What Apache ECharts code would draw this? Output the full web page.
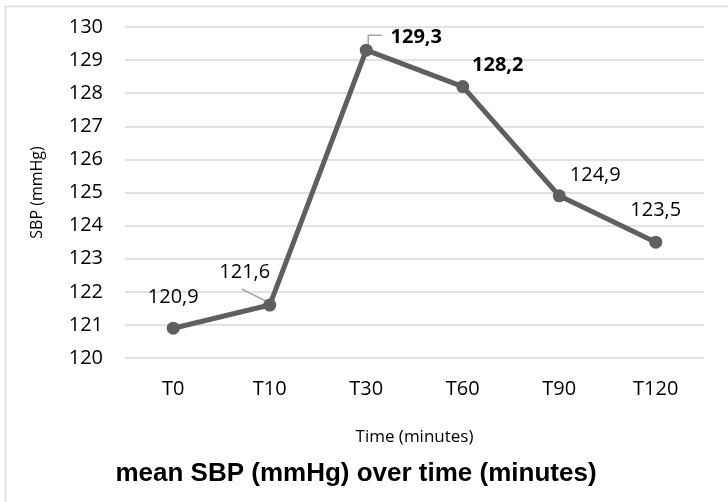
<!DOCTYPE html>
<html>
<head>
<meta charset="utf-8">
<script src="https://cdn.jsdelivr.net/npm/echarts@6/dist/echarts.min.js"></script>
<style>html,body{margin:0;padding:0;background:#fff}#c{width:728px;height:502px}</style>
</head>
<body>
<div id="c"></div>
<script>
const categories = ['T0', 'T10', 'T30', 'T60', 'T90', 'T120'];
const sbpValues = [120.9, 121.6, 129.3, 128.2, 124.9, 123.5];
const yMin = 120, yMax = 130, yStep = 1;
const boldLabels = [false, false, true, true, false, false];
const labelOffsets = [[0, -31], [-25, -33], [50, -13], [35, -21], [36, -21], [0, -32]];

const chart = echarts.init(document.getElementById('c'), null, {renderer: 'canvas'});
const FONT = '"Open Sans", sans-serif';

chart.setOption({
  animation: false,
  backgroundColor: '#fff',
  grid: {left: 125, right: 24, top: 27, bottom: 144},
  title: {
    text: 'mean SBP (mmHg) over time (minutes)',
    left: 351, top: 456, textAlign: 'center',
    textStyle: {fontFamily: '"Liberation Sans", Arial, sans-serif', fontWeight: 'bold', fontSize: 26, color: '#000'}
  },
  xAxis: {
    type: 'category', data: categories, boundaryGap: true,
    axisLine: {show: false}, axisTick: {show: false},
    axisLabel: {fontFamily: FONT, fontSize: 20, color: '#000', margin: 21},
    name: 'Time (minutes)', nameLocation: 'middle', nameGap: 71,
    nameTextStyle: {fontFamily: FONT, fontSize: 17, color: '#000'}
  },
  yAxis: {
    type: 'value', min: yMin, max: yMax, interval: yStep,
    axisLine: {show: false}, axisTick: {show: false},
    splitLine: {lineStyle: {color: '#d9d9d9', width: 1.5}},
    axisLabel: {fontFamily: FONT, fontSize: 20, color: '#000', margin: 22},
    name: 'SBP (mmHg)', nameLocation: 'middle', nameGap: 80,
    nameTextStyle: {fontFamily: FONT, fontSize: 16, color: '#000'}
  },
  series: [{
    type: 'line',
    data: sbpValues.map((v, i) => ({
      value: v,
      label: {
        show: true, position: 'inside', offset: labelOffsets[i],
        fontFamily: FONT, fontSize: 20, color: '#000',
        fontWeight: boldLabels[i] ? 'bold' : 'normal',
        formatter: p => String(p.value).replace('.', ',')
      }
    })),
    symbol: 'circle', symbolSize: 13,
    lineStyle: {color: '#5f5f5f', width: 5},
    itemStyle: {color: '#5f5f5f'},
    z: 3
  }]
});

const p1 = chart.convertToPixel({seriesIndex: 0}, [1, sbpValues[1]]);
const p2 = chart.convertToPixel({seriesIndex: 0}, [2, sbpValues[2]]);
chart.setOption({
  graphic: [
    {type: 'rect', shape: {x: 5.5, y: 6.5, width: 760, height: 540}, style: {fill: 'none', stroke: '#d9d9d9', lineWidth: 1.5}, z: 0},
    {type: 'line', shape: {x1: p1[0] - 28, y1: p1[1] - 16, x2: p1[0], y2: p1[1] - 2}, style: {stroke: '#a6a6a6', lineWidth: 1.5}, z: 1},
    {type: 'polyline', shape: {points: [[p2[0] + 2, p2[1] - 5], [p2[0] + 2, p2[1] - 15], [p2[0] + 16, p2[1] - 15]]}, style: {fill: 'none', stroke: '#a6a6a6', lineWidth: 1.5}, z: 1}
  ]
});
</script>
</body>
</html>
